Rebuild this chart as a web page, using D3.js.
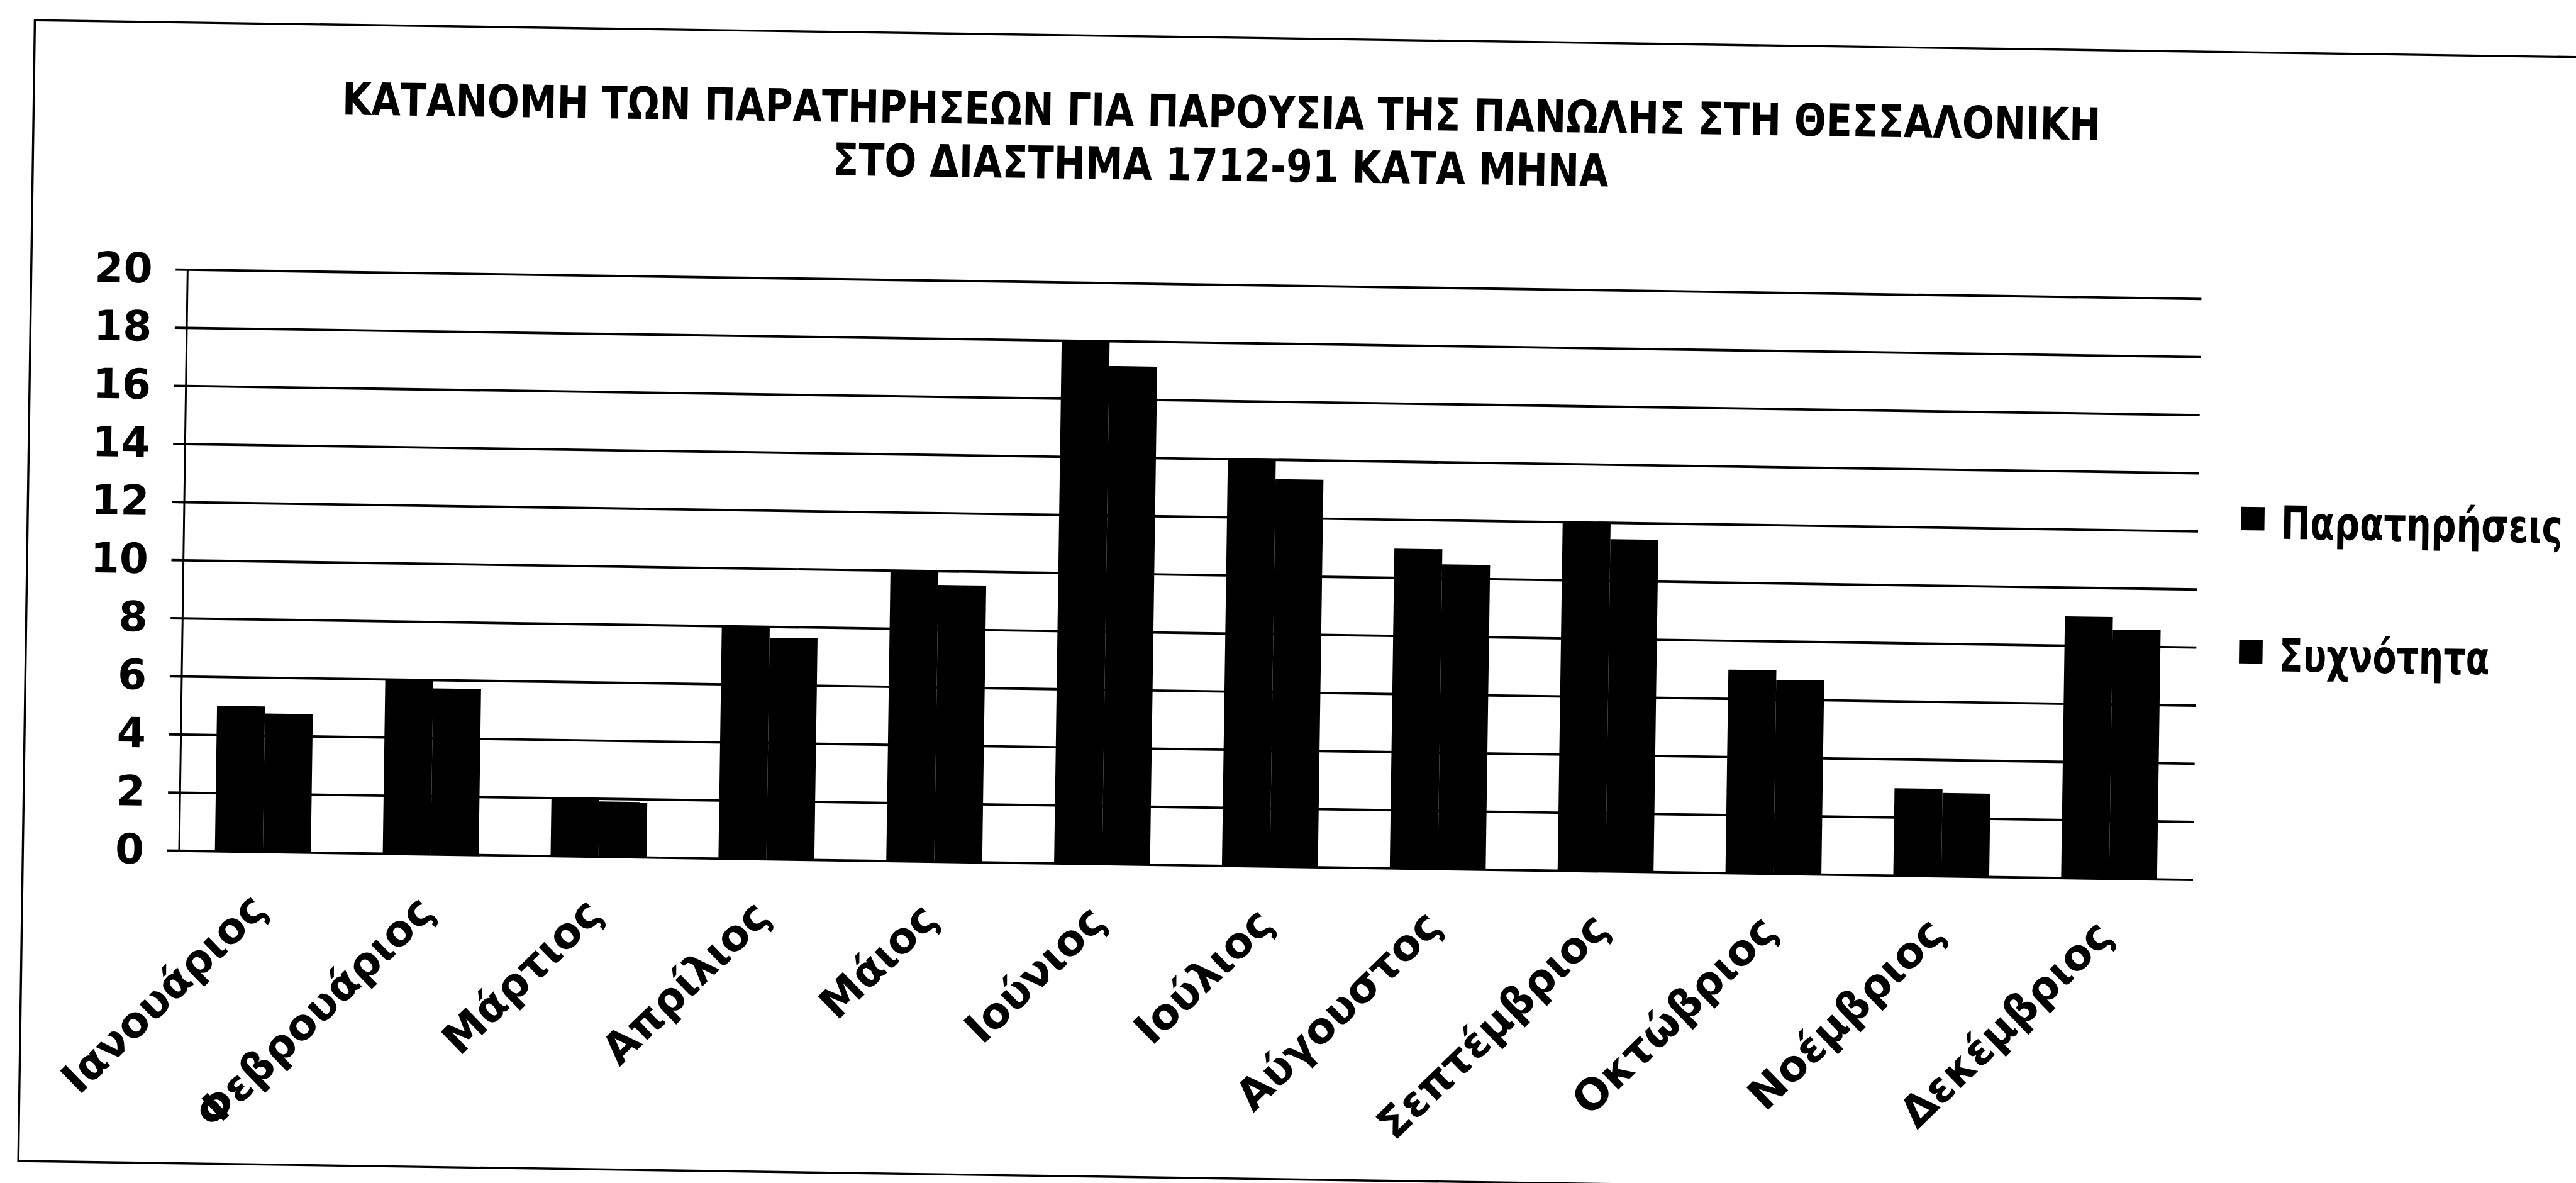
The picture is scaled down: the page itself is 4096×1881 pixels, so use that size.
<!DOCTYPE html>
<html>
<head>
<meta charset="utf-8">
<script src="https://cdn.jsdelivr.net/npm/d3@7"></script>
<style>
html, body { margin: 0; padding: 0; background: #fff; }
svg { display: block; }
</style>
</head>
<body>
<div id="chart"></div>
<script>
// values
var months = ["Ιανουάριος", "Φεβρουάριος", "Μάρτιος", "Απρίλιος", "Μάιος", "Ιούνιος",
	"Ιούλιος", "Αύγουστος", "Σεπτέμβριος", "Οκτώβριος", "Νοέμβριος", "Δεκέμβριος"];
var observations = [5, 6, 2, 8, 10, 18, 14, 11, 12, 7, 3, 9];
var frequency = [4.76, 5.71, 1.90, 7.62, 9.52, 17.14, 13.33, 10.48, 11.43, 6.67, 2.86, 8.57];
var seriesNames = ["Παρατηρήσεις", "Συχνότητα"];
var yTicks = [0, 2, 4, 6, 8, 10, 12, 14, 16, 18, 20];
var titleLines = ["ΚΑΤΑΝΟΜΗ ΤΩΝ ΠΑΡΑΤΗΡΗΣΕΩΝ ΓΙΑ ΠΑΡΟΥΣΙΑ ΤΗΣ ΠΑΝΩΛΗΣ ΣΤΗ ΘΕΣΣΑΛΟΝΙΚΗ",
	"ΣΤΟ ΔΙΑΣΤΗΜΑ 1712-91 ΚΑΤΑ ΜΗΝΑ"];

//window size
var width = 4096, height = 1881;
// everything below is laid out in the 4818px scan, then drawn at 0.85
var k = 0.85;
// the scan is turned a little clockwise
var tilt = 0.83;

var plotLeft = 342, plotRight = 4110, plotTop = 534, plotBottom = 1621;
var font = "'DejaVu Sans', Verdana, sans-serif";
// widths of the squeezed bold texts in the scan
var titleWidth = [3290, 1451];
var legendWidth = [527, 394];

var svg = d3.select("#chart").append("svg")
	.attr("width", width)
	.attr("height", height);

svg.append("rect")
	.attr("width", width)
	.attr("height", height)
	.attr("fill", "#fff");

var g = svg.append("g")
	.attr("transform", "scale(" + k + ") rotate(" + tilt + ",2409,1106)");

// outer frame (right side runs off the page)
g.append("rect")
	.attr("x", 50)
	.attr("y", 72)
	.attr("width", 4900)
	.attr("height", 2134)
	.attr("fill", "none")
	.attr("stroke", "#000")
	.attr("stroke-width", 4);

var x = d3.scaleBand()
	.domain(months)
	.range([plotLeft, plotRight])
	.paddingInner(1.5 / 3.5)
	.paddingOuter(0.75 / 3.5);

var xs = d3.scaleBand()
	.domain([0, 1])
	.range([0, x.bandwidth()]);

var y = d3.scaleLinear()
	.domain([0, 20])
	.range([plotBottom, plotTop]);

// gridlines
var grid = g.append("g")
	.attr("transform", "translate(" + plotLeft + ",0)")
	.call(d3.axisLeft(y).tickValues(yTicks).tickSize(-(plotRight - plotLeft)).tickFormat(""));
grid.select(".domain").remove();
grid.selectAll("line").attr("stroke", "#000").attr("stroke-width", 4.5);

// bars
var series = [observations, frequency];
g.selectAll(".month")
	.data(months)
	.join("g")
	.attr("class", "month")
	.attr("transform", function (d) { return "translate(" + x(d) + ",0)"; })
	.selectAll("rect")
	.data(function (d, i) {
		return series.map(function (s, j) { return {j: j, v: s[i]}; });
	})
	.join("rect")
	.attr("x", function (d) { return xs(d.j); })
	.attr("y", function (d) { return y(d.v); })
	.attr("width", xs.bandwidth())
	.attr("height", function (d) { return y(0) - y(d.v); })
	.attr("fill", "#000");

// y axis
var yAxis = g.append("g")
	.attr("transform", "translate(" + plotLeft + ",0)")
	.call(d3.axisLeft(y).tickValues(yTicks).tickSize(22).tickSizeOuter(0).tickPadding(43));
yAxis.select(".domain").attr("stroke", "#000").attr("stroke-width", 3.5);
yAxis.selectAll("line").attr("stroke", "#000").attr("stroke-width", 4.5);
yAxis.selectAll("text")
	.attr("font-family", font)
	.attr("font-weight", "bold")
	.attr("font-size", 78)
	.attr("fill", "#000");

// month labels, turned 45 degrees
g.selectAll(".mlabel")
	.data(months)
	.join("text")
	.attr("class", "mlabel")
	.attr("transform", function (d) {
		return "translate(" + (x(d) + x.bandwidth() / 2 + 12) + "," + (plotBottom + 112) + ") rotate(-45)";
	})
	.attr("text-anchor", "end")
	.attr("font-family", font)
	.attr("font-weight", "bold")
	.attr("font-size", 80)
	.attr("fill", "#000")
	.text(function (d) { return d; });

// squeeze a bold text sideways to the width it has in the scan
function squeeze(node, tx, ty, w) {
	var s = w / node.getComputedTextLength();
	d3.select(node).attr("transform", "translate(" + tx + "," + ty + ") scale(" + s + ",1)");
}

// title
g.selectAll(".title")
	.data(titleLines)
	.join("text")
	.attr("class", "title")
	.attr("text-anchor", "middle")
	.attr("font-family", font)
	.attr("font-weight", "bold")
	.attr("font-size", 84)
	.attr("fill", "#000")
	.text(function (d) { return d; })
	.each(function (d, i) { squeeze(this, 2272, 240 + i * 100, titleWidth[i]); });

// legend
var legend = g.append("g");
legend.selectAll("rect")
	.data(seriesNames)
	.join("rect")
	.attr("x", 4190)
	.attr("y", function (d, i) { return 922 + i * 249; })
	.attr("width", 44)
	.attr("height", 44)
	.attr("fill", "#000");
legend.selectAll("text")
	.data(seriesNames)
	.join("text")
	.attr("font-family", font)
	.attr("font-weight", "bold")
	.attr("font-size", 86)
	.attr("fill", "#000")
	.text(function (d) { return d; })
	.each(function (d, i) { squeeze(this, 4265, 981 + i * 248, legendWidth[i]); });
</script>
</body>
</html>
